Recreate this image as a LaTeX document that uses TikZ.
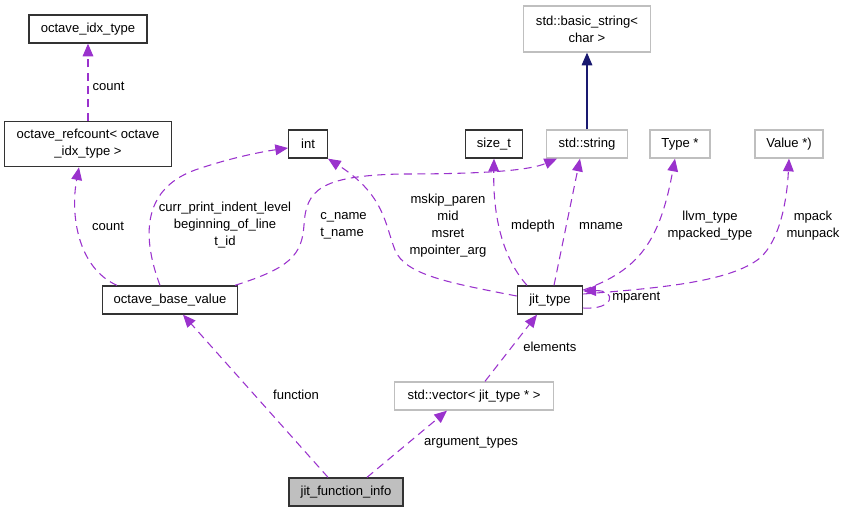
\documentclass[tikz,border=0pt]{standalone}
\usepackage{fontspec}
\setmainfont{Liberation Sans}
\usetikzlibrary{arrows.meta,calc}
\definecolor{usage}{HTML}{9A32CD}
\definecolor{inherit}{HTML}{191970}
\begin{document}
\begin{tikzpicture}[x=0.75pt,y=-0.75pt,>={Triangle[length=9.5pt,width=8pt]},
  every node/.style={font=\fontsize{9.8}{12.75}\selectfont,inner sep=0pt},
  cls/.style={draw=black!80,line width=1pt,minimum height=21pt,align=center},
  ext/.style={draw=black!25,line width=1pt,minimum height=21pt,align=center},
  dep/.style={->,usage,line width=0.8pt,dash pattern=on 6pt off 4pt},
  lbl/.style={text=black,align=center}]
\useasboundingbox (0,0) rectangle (845,512);
\node[cls,minimum width=88.5pt] (idx) at (88,29) {octave\_idx\_type};
\node[cls,minimum width=125pt,minimum height=34pt] (ref) at (88,144) {octave\_refcount< octave\\\_idx\_type >};
\node[cls,minimum width=29pt] (int) at (308,144) {int};
\node[cls,minimum width=101pt] (obv) at (170,300) {octave\_base\_value};
\node[ext,minimum width=95pt,minimum height=34.5pt] (bstr) at (587,29) {std::basic\_string<\\char >};
\node[cls,minimum width=43pt] (sizet) at (494,144) {size\_t};
\node[ext,minimum width=61pt] (str) at (587,144) {std::string};
\node[ext,minimum width=45pt] (typ) at (680,144) {Type *};
\node[ext,minimum width=51pt] (val) at (789,144) {Value *)};
\node[cls,minimum width=49pt] (jit) at (550,300) {jit\_type};
\node[ext,minimum width=119pt] (vec) at (474,396) {std::vector< jit\_type * >};
\node[cls,fill=black!25,minimum width=85.5pt] (jfi) at (346,492) {jit\_function\_info};
\draw[dep] (ref) -- node[lbl,right,xshift=3pt,yshift=-3pt]{count} (idx);
\draw[dep] ($(obv.north)+(-53,0)$) .. controls (78,268) and (70,215) .. ($(ref.south)+(-9,0)$);
\node[lbl] (l1) at (108,226) {count};
\draw[dep] ($(obv.north)+(-10,0)$) .. controls (143,240) and (140,190) .. (195,170)
  .. controls (230,158) and (260,152) .. ($(int.west)+(0,4)$);
\node[lbl] (l2) at (225,225) {curr\_print\_indent\_level\\beginning\_of\_line\\t\_id};
\draw[dep] ($(obv.north)+(65,0)$) .. controls (290,268) and (302,255) .. (304,225)
  .. controls (306,190) and (320,176) .. (400,174) .. controls (490,174) and (530,170) .. ($(str.south)+(-30,0)$);
\node[lbl,anchor=west,align=left] (l3) at (320,226) {c\_name\\t\_name};
\draw[dep] ($(jit.west)+(0,-4)$) .. controls (450,283) and (405,275) .. (395,250)
  .. controls (385,225) and (385,195) .. (int.south east);
\node[lbl] (l4) at (448,226) {mskip\_paren\\mid\\msret\\mpointer\_arg};
\draw[dep] ($(jit.north)+(-23,0)$) .. controls (500,255) and (493,210) .. (sizet.south);
\node[lbl] (l5) at (533,226) {mdepth};
\draw[dep] ($(jit.north)+(4,0)$) -- ($(str.south)+(-7,0)$);
\node[lbl] (l6) at (601,226) {mname};
\draw[dep] ($(jit.east)+(0,-10)$) .. controls (640,270) and (660,240) .. ($(typ.south)+(-5,0)$);
\node[lbl] (l7) at (710,226) {llvm\_type\\mpacked\_type};
\draw[dep] ($(jit.east)+(0,-6)$) .. controls (660,288) and (730,282) .. (760,258)
  .. controls (780,240) and (787,200) .. (val.south);
\node[lbl] (l8) at (813,226) {mpack\\munpack};
\draw[dep] ($(jit.east)+(0,8)$) .. controls (615,310) and (617,290) .. ($(jit.east)+(0,-9)$);
\node[lbl,anchor=west] (l9) at (612,298) {mparent};
\draw[->,inherit,line width=0.8pt] (str) -- (bstr);
\draw[dep] ($(vec.north)+(11,0)$) -- ($(jit.south)+(-13,0)$);
\node[lbl,anchor=west] (l10) at (523,347) {elements};
\draw[dep] ($(jfi.north)+(-18,0)$) -- ($(obv.south)+(13,0)$);
\node[lbl] (l11) at (296,395) {function};
\draw[dep] ($(jfi.north)+(21,0)$) -- ($(vec.south)+(-27,0)$);
\node[lbl] (l12) at (471,443) {argument\_types};
\end{tikzpicture}
\end{document}
